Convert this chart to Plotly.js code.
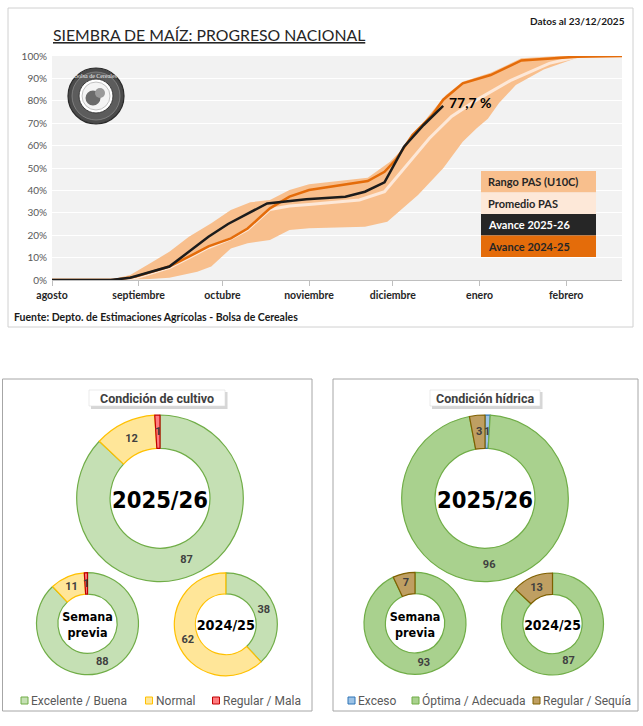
<!DOCTYPE html>
<html><head><meta charset="utf-8">
<script src="https://cdn.plot.ly/plotly-3.0.1.min.js"></script>
<style>html,body{margin:0;padding:0;background:#fff;overflow:hidden}#chart{width:643px;height:726px}</style>
</head><body><div id="chart"></div>
<script>
// ---------------- DATA ----------------
// x = days since 1 August 2025
const monthDays   = [0, 31, 61, 92, 122, 153, 184];
const monthLabels = ['agosto','septiembre','octubre','noviembre','diciembre','enero','febrero'];

const diasRangoSup = [0,17,22,28,35,42,49,57,64,71,78,85,92,104,113,121,127,135,141,147,157,168,182,204];
const rangoSup     = [0,0,0.5,2.2,7.4,12.6,19.3,25.3,31.2,34.7,35.7,40.2,42.7,44.6,45.7,52.8,60.3,73.7,82.6,88.5,92.5,99,100,100];
const diasRangoInf = [0,22,35,42,52,57,64,70,78,85,92,112,120,131,140,147,152,156,160,166,176,189,196,204];
const rangoInf     = [0,0,0.5,1,3.7,6,14.1,16.4,17.9,22.3,23.1,23.8,26,38,49.9,61.7,67.7,72,79,87,94,99.7,100,100];

const diasPromedio = [0,22,30,42,49,56,64,70,78,85,93,110,119,127,135,143,152,164,178,189,204];
const promedioPAS  = [0,0,1,5.5,10,14.5,18.5,22.5,31.5,33,33.8,35.7,39.4,51.3,63.2,73,80.4,89,96.7,100,100];

const dias2425   = [0,22,30,42,49,56,64,70,78,85,92,104,113,119,123,129,136,140,147,157,168,188,204];
const avance2425 = [0,0,1.5,6,10.4,15,18.6,23,32,37.2,40.2,42.4,44.2,48.3,53.6,64.7,73.5,80.5,87.8,91.5,98,99.7,100];

const dias2526   = [0,21,28,42,56,63,77,91,105,112,119,126,133,140];
const avance2526 = [0,0,1,6,19.3,25,34.2,36,37.2,39.4,43.6,59.5,69.2,77.7];

const legendLabels = ['Rango PAS (U10C)','Promedio PAS','Avance 2025-26','Avance 2024-25'];

const condLabels = ['Excelente / Buena','Normal','Regular / Mala'];
const cond2526   = [87, 12, 1];
const condPrevia = [88, 11, 1];
const cond2425   = [38, 62, 0];

const hidLabels = ['Exceso','Óptima / Adecuada','Regular / Sequía'];
const hid2526   = [1, 96, 3];
const hidPrevia = [0, 93, 7];
const hid2425   = [0, 87, 13];

// ---------------- STYLE / LAYOUT HELPERS ----------------
const W = 643, H = 726;
const px = x => x / W, py = y => 1 - y / H;
const FT = 'Lato, "Open Sans", sans-serif';
const FB = 'Roboto, "DejaVu Sans", sans-serif';
const FC = '"DejaVu Sans Condensed", "Liberation Sans Narrow", Roboto, sans-serif';

const C_BAND = '#F8BF8D', C_PROM = '#FDE8D8', C_2526 = '#1C1C1C', C_2425 = '#E46C0A';
const condFill = ['#C5E0B4', '#FFE699', '#FF7C80'];
const condLine = ['#70AD47', '#FFC000', '#C00000'];
const hidFill  = ['#9DC3E6', '#A9D18E', '#BF9F62'];
const hidLine  = ['#2E75B6', '#70AD47', '#7F6000'];

const traces = [];
const shapes = [];
const annotations = [];

// ---------------- TOP CHART ----------------
traces.push({
  type: 'scatter', mode: 'lines', x: diasRangoSup.concat(diasRangoInf.slice().reverse()),
  y: rangoSup.concat(rangoInf.slice().reverse()), fill: 'toself', fillcolor: C_BAND,
  line: {width: 0, color: C_BAND}, hoverinfo: 'skip', showlegend: false, cliponaxis: false
});
traces.push({type: 'scatter', mode: 'lines', x: diasPromedio, y: promedioPAS,
  line: {color: C_PROM, width: 3}, showlegend: false, cliponaxis: false});
traces.push({type: 'scatter', mode: 'lines', x: dias2425, y: avance2425,
  line: {color: C_2425, width: 2.5}, showlegend: false, cliponaxis: false});
traces.push({type: 'scatter', mode: 'lines', x: dias2526, y: avance2526,
  line: {color: C_2526, width: 2.5}, showlegend: false, cliponaxis: false});

const lastI = avance2526.length - 1;
annotations.push({x: dias2526[lastI], y: avance2526[lastI], xref: 'x', yref: 'y',
  text: '<b>' + String(avance2526[lastI]).replace('.', ',') + ' %</b>', showarrow: false,
  xanchor: 'left', yanchor: 'middle', xshift: 4, yshift: 3,
  font: {family: FT, size: 14, color: '#000'}});

// panel frame top
shapes.push({type: 'rect', xref: 'paper', yref: 'paper', x0: px(8), x1: px(633), y0: py(327), y1: py(8),
  line: {color: '#D0D0D0', width: 1}, fillcolor: 'rgba(0,0,0,0)', layer: 'below'});

annotations.push({xref: 'paper', yref: 'paper', x: px(51), y: py(35), xanchor: 'left', yanchor: 'middle',
  text: '<u>SIEMBRA DE MAÍZ: PROGRESO NACIONAL</u>', showarrow: false,
  font: {family: FT, size: 15.8, color: '#262626'}});
annotations.push({xref: 'paper', yref: 'paper', x: px(627), y: py(21), xanchor: 'right', yanchor: 'middle',
  text: '<b>Datos al 23/12/2025</b>', showarrow: false, font: {family: FT, size: 10, color: '#1a1a1a'}});
annotations.push({xref: 'paper', yref: 'paper', x: px(12), y: py(317), xanchor: 'left', yanchor: 'middle',
  text: '<b>Fuente: Depto. de Estimaciones Agrícolas - Bolsa de Cereales</b>', showarrow: false,
  font: {family: FT, size: 10.5, color: '#1a1a1a'}});

// legend boxes (top chart)
const legFill = [C_BAND, C_PROM, '#262626', C_2425];
const legText = ['#262626', '#262626', '#FFFFFF', '#262626'];
const legTop = 171, legRow = 21.5;
legendLabels.forEach((lab, i) => {
  const y0 = legTop + i * legRow;
  shapes.push({type: 'rect', xref: 'paper', yref: 'paper', x0: px(481), x1: px(596), y0: py(y0 + legRow), y1: py(y0),
    fillcolor: legFill[i], line: {width: 0}});
  annotations.push({xref: 'paper', yref: 'paper', x: px(486), y: py(y0 + legRow / 2), xanchor: 'left', yanchor: 'middle',
    text: '<b>' + lab + '</b>', showarrow: false, font: {family: FT, size: 11, color: legText[i]}});
});

// logo seal (grey emblem)
const circ = (cx, cy, r, fill, line, lw) => shapes.push({type: 'circle', xref: 'paper', yref: 'paper',
  x0: px(cx - r), x1: px(cx + r), y0: py(cy + r), y1: py(cy - r), fillcolor: fill, line: {color: line, width: lw}});
circ(96, 96, 28, '#4a4a4a', '#2a2a2a', 1.2);
circ(96, 96, 24, '#5c5c5c', '#9a9a9a', 0.6);
circ(96, 96, 17, '#ffffff', '#3a3a3a', 1);
circ(96, 96, 14, '#f4f4f4', '#8a8a8a', 0.5);
circ(93, 98, 7.5, '#6a6a6a', '#6a6a6a', 0);
circ(100, 93, 5, '#9a9a9a', '#9a9a9a', 0);
annotations.push({xref: 'paper', yref: 'paper', x: px(96), y: py(76), xanchor: 'center', yanchor: 'middle',
  text: 'Bolsa de Cereales', showarrow: false, font: {family: 'Liberation Serif, serif', size: 6, color: '#eeeeee'}});

// ---------------- BOTTOM PANELS ----------------
shapes.push({type: 'rect', xref: 'paper', yref: 'paper', x0: px(2.5), x1: px(312), y0: py(711), y1: py(379),
  line: {color: '#A6A6A6', width: 1}, fillcolor: 'rgba(0,0,0,0)'});
shapes.push({type: 'rect', xref: 'paper', yref: 'paper', x0: px(333), x1: px(638), y0: py(711), y1: py(379),
  line: {color: '#A6A6A6', width: 1}, fillcolor: 'rgba(0,0,0,0)'});

function titleBox(x0, x1, txt) {
  shapes.push({type: 'rect', xref: 'paper', yref: 'paper', x0: px(x0 + 2), x1: px(x1 + 2.5), y0: py(409), y1: py(392),
    fillcolor: '#C4C4C4', line: {width: 0}, opacity: 0.7});
  shapes.push({type: 'rect', xref: 'paper', yref: 'paper', x0: px(x0), x1: px(x1), y0: py(406), y1: py(390),
    fillcolor: '#FFFFFF', line: {color: '#DDDDDD', width: 0.6}});
  annotations.push({xref: 'paper', yref: 'paper', x: px((x0 + x1) / 2), y: py(398), xanchor: 'center', yanchor: 'middle',
    text: '<b>' + txt + '</b>', showarrow: false, font: {family: FB, size: 12.5, color: '#404040'}});
}
titleBox(89, 225, 'Condición de cultivo');
titleBox(430, 540, 'Condición hídrica');

function donut(vals, labels, fills, lines, cx, cy, r, hole, title, tsize) {
  traces.push({
    type: 'pie', values: vals, labels: labels, sort: false, direction: 'clockwise', rotation: 0,
    hole: hole, domain: {x: [px(cx - r), px(cx + r)], y: [py(cy + r), py(cy - r)]},
    marker: {colors: fills, line: {color: lines, width: vals.map(v => v > 0 ? 1.2 : 0)}},
    text: vals.map(v => v >= 5 ? String(v) : ''), textinfo: 'text', textposition: 'inside',
    insidetextorientation: 'horizontal',
    textfont: {family: FB, size: 11, color: '#404040', weight: 'bold'},
    title: {text: '<b>' + title + '</b>', position: 'middle center', font: {family: FC, size: tsize, color: '#000'}},
    showlegend: false, hoverinfo: 'skip'
  });
  // labels for very small slices (placed at slice centroid, computed from values)
  const tot = vals.reduce((a, b) => a + b, 0);
  let cum = 0;
  const rm = r * (1 + hole) / 2;
  vals.forEach(v => {
    if (v > 0 && v < 5) {
      const th = 2 * Math.PI * (cum + v / 2) / tot;
      annotations.push({xref: 'paper', yref: 'paper', x: px(cx + rm * Math.sin(th)), y: py(cy - rm * Math.cos(th)),
        xanchor: 'center', yanchor: 'middle', text: '<b>' + v + '</b>', showarrow: false,
        font: {family: FB, size: 11, color: '#404040'}});
    }
    cum += v;
  });
}
donut(cond2526, condLabels, condFill, condLine, 160, 498.3, 83.3, 0.6, '2025/26', 26);
donut(condPrevia, condLabels, condFill, condLine, 87.5, 623.7, 51, 0.58, 'Semana<br>previa', 14);
donut(cond2425, condLabels, condFill, condLine, 225.8, 624.3, 51.5, 0.59, '2024/25', 15);
donut(hid2526, hidLabels, hidFill, hidLine, 485, 498.3, 83.3, 0.6, '2025/26', 26);
donut(hidPrevia, hidLabels, hidFill, hidLine, 415, 623.3, 51, 0.58, 'Semana<br>previa', 14);
donut(hid2425, hidLabels, hidFill, hidLine, 552.5, 624, 51, 0.58, '2024/25', 15);

// bottom legends
function legItem(bx, label, fill, line) {
  shapes.push({type: 'rect', xref: 'paper', yref: 'paper', x0: px(bx), x1: px(bx + 7), y0: py(704), y1: py(697),
    fillcolor: fill, line: {color: line, width: 1}});
  annotations.push({xref: 'paper', yref: 'paper', x: px(bx + 8), y: py(700.5), xanchor: 'left', yanchor: 'middle',
    text: label, showarrow: false, font: {family: FB, size: 12, color: '#595959'}});
}
[21, 145.5, 212.5].forEach((bx, i) => legItem(bx, condLabels[i], condFill[i], condLine[i]));
[348, 412, 533].forEach((bx, i) => legItem(bx, hidLabels[i], hidFill[i], hidLine[i]));

// ---------------- LAYOUT ----------------
const layout = {
  width: W, height: H, margin: {l: 0, r: 0, t: 0, b: 0}, paper_bgcolor: '#FFFFFF', plot_bgcolor: '#F2F2F2',
  hovermode: false, showlegend: false,
  xaxis: {domain: [px(52), px(622)], range: [0, 204], tickmode: 'array', tickvals: monthDays, ticktext: monthLabels,
    showgrid: false, zeroline: false, showline: true, linecolor: '#BFBFBF', linewidth: 1,
    ticks: 'outside', ticklen: 5, tickcolor: '#BFBFBF',
    tickfont: {family: FT, size: 10.5, color: '#262626', weight: 'bold'}, fixedrange: true},
  yaxis: {domain: [py(280), py(56)], range: [0, 100], dtick: 10, ticksuffix: '%', showgrid: true,
    gridcolor: '#FFFFFF', gridwidth: 1, zeroline: false, showline: false, ticks: '',
    tickfont: {family: FT, size: 10, color: '#595959'}, ticklabelstandoff: 4, fixedrange: true},
  shapes: shapes, annotations: annotations
};
Plotly.newPlot('chart', traces, layout, {displayModeBar: false, staticPlot: true});
</script></body></html>
